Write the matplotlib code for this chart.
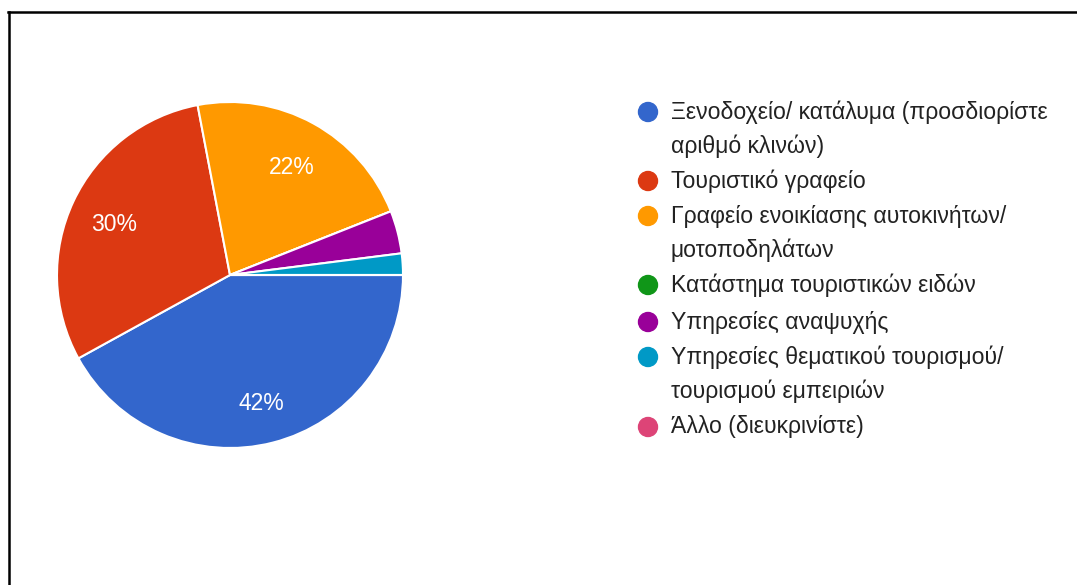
import matplotlib.pyplot as plt
from matplotlib.patches import Ellipse
from matplotlib.lines import Line2D

plt.rcParams['font.family'] = ['Liberation Sans', 'DejaVu Sans']

# responses per category (total 50)
categories = [
    "Ξενοδοχείο/ κατάλυμα (προσδιορίστε\nαριθμό κλινών)",
    "Τουριστικό γραφείο",
    "Γραφείο ενοικίασης αυτοκινήτων/\nμοτοποδηλάτων",
    "Κατάστημα τουριστικών ειδών",
    "Υπηρεσίες αναψυχής",
    "Υπηρεσίες θεματικού τουρισμού/\nτουρισμού εμπειριών",
    "Άλλο (διευκρινίστε)",
]
counts = [21, 15, 11, 0, 2, 1, 0]
colors = ["#3366cc", "#dc3912", "#ff9900", "#109618", "#990099", "#0099c6", "#dd4477"]

W, H = 1077, 585
fig = plt.figure(figsize=(W / 100, H / 100), dpi=100)

# frame lines (top and left) as in the screenshot
fig.add_artist(Line2D([8 / W, 1], [1 - 12 / H, 1 - 12 / H], color="black", lw=1.8))
fig.add_artist(Line2D([9 / W, 9 / W], [0, 1 - 12 / H], color="black", lw=1.8))

cx, cy, r = 230, 275, 173
ax = fig.add_axes([(cx - r) / W, (H - cy - r) / H, 2 * r / W, 2 * r / H])


def pct(p):
    return f"{p:.0f}%" if p >= 5 else ""


wedges, texts, autotexts = ax.pie(
    counts, colors=colors, startangle=0, counterclock=False,
    autopct=pct, pctdistance=0.74,
    wedgeprops=dict(edgecolor="white", linewidth=1.5),
    textprops=dict(color="white", fontsize=16.5),
)
# nudge the labels down a touch to match the screenshot
for t in autotexts:
    x, y = t.get_position()
    t.set_position((x, y - 0.025))
ax.set_xlim(-1, 1)
ax.set_ylim(-1, 1)
ax.set_aspect("equal")
ax.axis("off")

# legend drawn by hand, Google Forms style
legend_y = [112, 181, 216, 285, 322, 357, 427]
line_gap = 34
for lab, col, y in zip(categories, colors, legend_y):
    fig.add_artist(Ellipse((648 / W, 1 - y / H), 19 / W, 19 / H, color=col,
                           transform=fig.transFigure))
    for i, part in enumerate(lab.split("\n")):
        fig.text(671 / W, 1 - (y + i * line_gap) / H, part, fontsize=16.6,
                 color="#222222", va="center", ha="left")

fig.savefig("out.png", dpi=100)
